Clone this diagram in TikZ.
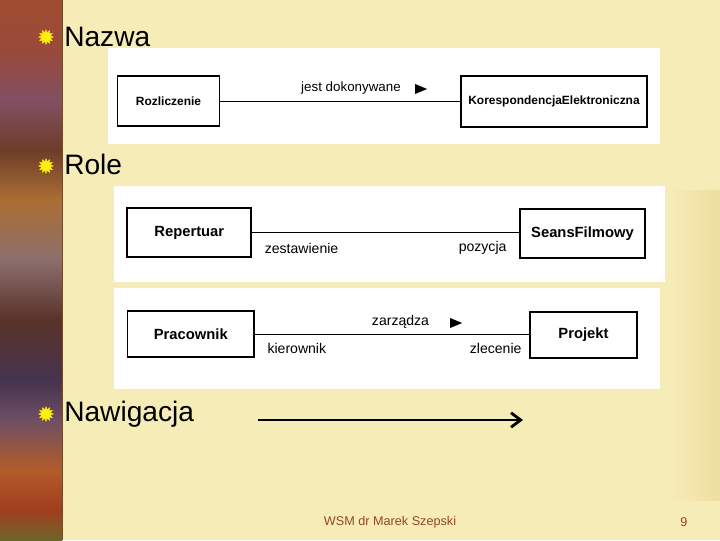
\documentclass[tikz,border=0pt]{standalone}
\usepackage{fontspec}
\setmainfont{Liberation Sans}
\usetikzlibrary{positioning, arrows.meta, shapes.geometric, calc}

\definecolor{slidebg}{RGB}{246,236,184}
\definecolor{slidegold}{RGB}{238,222,158}
\definecolor{footerbrown}{RGB}{150,70,35}
\definecolor{bulletyellow}{RGB}{250,240,20}

% left ornament strip, bottom (25bp) to top (75bp)
\pgfdeclareverticalshading{stripshade}{100bp}{
  rgb(0bp)=(0.43,0.40,0.16);
  rgb(25bp)=(0.43,0.40,0.16);
  rgb(27.8bp)=(0.63,0.24,0.12);
  rgb(31.5bp)=(0.70,0.36,0.16);
  rgb(36.1bp)=(0.43,0.31,0.39);
  rgb(39.8bp)=(0.27,0.20,0.31);
  rgb(45.4bp)=(0.35,0.20,0.16);
  rgb(50.9bp)=(0.55,0.43,0.43);
  rgb(56.5bp)=(0.67,0.43,0.20);
  rgb(61.1bp)=(0.43,0.24,0.16);
  rgb(65.7bp)=(0.51,0.31,0.39);
  rgb(70.4bp)=(0.60,0.29,0.22);
  rgb(75bp)=(0.63,0.30,0.20);
  rgb(100bp)=(0.63,0.30,0.20)}

\begin{document}
\begin{tikzpicture}[
    x=0.025cm, y=-0.025cm,
    panel/.style={fill=white, draw=none},
    umlbox/.style={rectangle, draw, line width=1.2pt, fill=white, inner sep=1pt, font=\fontsize{8.5}{10}\selectfont\bfseries},
    rolebox/.style={umlbox, font=\fontsize{10.5}{12}\selectfont\bfseries},
    assoc/.style={line width=0.7pt},
    assoclabel/.style={font=\fontsize{9.5}{11}\selectfont, inner sep=1pt},
    rolelabel/.style={font=\fontsize{10}{12}\selectfont, inner sep=1pt},
    dirmark/.style={isosceles triangle, fill=black, minimum height=0.3cm, minimum width=0.22cm, inner sep=0pt},
    bullet/.style={star, star points=12, star point ratio=1.6, fill=bulletyellow, draw=yellow!80!orange, inner sep=0pt, minimum size=0.36cm},
    heading/.style={font=\fontsize{20}{24}\selectfont, anchor=base west, inner sep=0pt},
    navarrow/.style={-{Straight Barb[length=2.4mm, width=3.6mm, line width=2pt]}, line width=2pt}
]
\useasboundingbox (0,0) rectangle (720,540);

% background
\fill[slidebg] (0,0) rectangle (720,540);
\shade[left color=slidebg, right color=slidegold] (670,190) rectangle (720,500);
\shade[shading=stripshade] (0,0) rectangle (62,540);
\draw[brown!60!black, line width=0.6pt] (62,0) -- (62,540);

% Nazwa
\node[bullet] (b1) at (46,37) {};
\node[heading] (nazwa) at (64,46) {Nazwa};
\fill[panel] (108,48) rectangle (660,144);
\node[umlbox, minimum width=2.55cm, minimum height=1.25cm] (rozl) at (168.5,101) {Rozliczenie};
\node[umlbox, minimum width=4.65cm, minimum height=1.275cm] (kor) at (554,101.5) {KorespondencjaElektroniczna};
\draw[assoc] (rozl.east) -- (rozl.east -| kor.west);
\node[assoclabel] (jest) at (351,88) {jest dokonywane};
\node[dirmark] (dir1) at (418.5,89) {};

% Role
\node[bullet] (b2) at (46,166) {};
\node[heading] (role) at (64,174) {Role};
\fill[panel] (114,186) rectangle (665,282);
\node[rolebox, minimum width=3.1cm, minimum height=1.225cm] (rep) at (189.3,232.5) {Repertuar};
\node[rolebox, minimum width=3.125cm, minimum height=1.225cm] (seans) at (582.5,233.5) {SeansFilmowy};
\draw[assoc] (rep.east) -- (rep.east -| seans.west);
\node[rolelabel, anchor=west] (zest) at ($(rep.east)+(11,15.5)$) {zestawienie};
\node[rolelabel, anchor=east] (poz) at ($(seans.west)+(-11,14.5)$) {pozycja};

\fill[panel] (114,288) rectangle (660,389);
\node[rolebox, minimum width=3.16cm, minimum height=1.15cm] (prac) at (190.8,334) {Pracownik};
\node[rolebox, minimum width=2.675cm, minimum height=1.15cm] (proj) at (583.5,335) {Projekt};
\draw[assoc] (prac.east) -- (prac.east -| proj.west);
\node[assoclabel, font=\fontsize{10}{12}\selectfont] (zarz) at (400.5,322) {zarządza};
\node[dirmark] (dir2) at (453.5,323) {};
\node[rolelabel, anchor=west] (kier) at ($(prac.east)+(11,14)$) {kierownik};
\node[rolelabel, anchor=east] (zlec) at ($(proj.west)+(-6,13)$) {zlecenie};

% Nawigacja
\node[bullet] (b3) at (46,414) {};
\node[heading] (nawi) at (64,421) {Nawigacja};
\coordinate (navfrom) at (258,420);
\coordinate (navto) at (523,420);
\draw[navarrow] (navfrom) -- (navto);

% footer
\node[font=\fontsize{9}{11}\selectfont, text=footerbrown] (foot) at (390,522) {WSM dr Marek Szepski};
\node[font=\fontsize{9}{11}\selectfont, text=footerbrown] (page) at (684,522) {9};

\end{tikzpicture}
\end{document}
